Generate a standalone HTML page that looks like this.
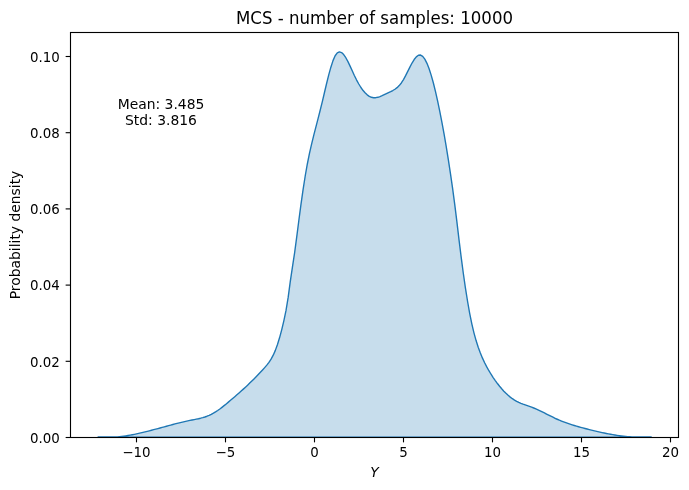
<!DOCTYPE html>
<html lang="en"><head><meta charset="utf-8"><title>MCS - number of samples: 10000</title>
<style>
html,body{margin:0;padding:0;background:#fff;}
body{width:689px;height:490px;overflow:hidden;}
svg{display:block;}
text{font-family:"DejaVu Sans","Liberation Sans",sans-serif;fill:#000;}
.t10{font-size:13.889px;}
.t12{font-size:16.667px;}
</style></head><body>
<svg width="689" height="490" viewBox="0 0 689 490">
<rect width="689" height="490" fill="#fff"/>
<defs><clipPath id="ax"><rect x="70.5" y="32.5" width="608.0" height="405.0"/></clipPath></defs>
<g clip-path="url(#ax)">
<path d="M98.10 437.00 L100.24 437.00 L102.37 437.00 L104.51 437.00 L106.64 437.00 L108.78 437.00 L110.91 437.00 L113.05 437.00 L115.18 437.00 L117.32 436.89 L119.46 436.67 L121.59 436.43 L123.73 436.15 L125.86 435.83 L128.00 435.49 L130.13 435.12 L132.27 434.73 L134.40 434.31 L136.54 433.86 L138.67 433.40 L140.81 432.91 L142.95 432.41 L145.08 431.89 L147.22 431.36 L149.35 430.82 L151.49 430.26 L153.62 429.70 L155.76 429.13 L157.89 428.55 L160.03 427.97 L162.17 427.39 L164.30 426.81 L166.44 426.23 L168.57 425.65 L170.71 425.08 L172.84 424.51 L174.98 423.95 L177.11 423.40 L179.25 422.87 L181.39 422.35 L183.52 421.84 L185.66 421.35 L187.79 420.88 L189.93 420.43 L192.06 420.00 L194.20 419.58 L196.33 419.15 L198.47 418.70 L200.61 418.20 L202.74 417.63 L204.88 416.98 L207.01 416.23 L209.15 415.36 L211.28 414.35 L213.42 413.19 L215.55 411.90 L217.69 410.48 L219.82 408.96 L221.96 407.35 L224.10 405.67 L226.23 403.93 L228.37 402.15 L230.50 400.34 L232.64 398.52 L234.77 396.68 L236.91 394.82 L239.04 392.94 L241.18 391.04 L243.32 389.11 L245.45 387.15 L247.59 385.15 L249.72 383.12 L251.86 381.04 L253.99 378.93 L256.13 376.77 L258.26 374.56 L260.40 372.30 L262.54 369.98 L264.67 367.61 L266.81 365.14 L268.94 362.38 L271.08 359.14 L273.21 355.20 L275.35 350.38 L277.48 344.49 L279.62 337.56 L281.75 329.59 L283.89 320.62 L286.03 310.45 L288.16 297.40 L290.30 281.46 L292.43 267.22 L294.57 253.03 L296.70 237.09 L298.84 220.49 L300.97 204.40 L303.11 189.39 L305.25 175.76 L307.38 163.74 L309.52 153.23 L311.65 143.83 L313.79 135.15 L315.92 126.83 L318.06 118.63 L320.19 110.29 L322.33 101.58 L324.47 92.53 L326.60 83.52 L328.74 74.93 L330.87 67.18 L333.01 60.65 L335.14 55.76 L337.28 52.86 L339.41 51.88 L341.55 52.56 L343.68 54.59 L345.82 57.72 L347.96 61.65 L350.09 66.10 L352.23 70.80 L354.36 75.46 L356.50 79.81 L358.63 83.75 L360.77 87.25 L362.90 90.28 L365.04 92.82 L367.18 94.85 L369.31 96.35 L371.45 97.29 L373.58 97.71 L375.72 97.69 L377.85 97.29 L379.99 96.61 L382.12 95.72 L384.26 94.69 L386.40 93.62 L388.53 92.57 L390.67 91.58 L392.80 90.52 L394.94 89.26 L397.07 87.67 L399.21 85.62 L401.34 82.97 L403.48 79.60 L405.62 75.64 L407.75 71.38 L409.89 67.09 L412.02 63.05 L414.16 59.54 L416.29 56.86 L418.43 55.27 L420.56 55.06 L422.70 56.38 L424.83 59.17 L426.97 63.33 L429.11 68.75 L431.24 75.34 L433.38 82.99 L435.51 91.61 L437.65 101.10 L439.78 111.35 L441.92 122.31 L444.05 133.99 L446.19 146.41 L448.33 159.59 L450.46 173.55 L452.60 188.40 L454.73 204.37 L456.87 221.64 L459.00 239.66 L461.14 256.90 L463.27 272.97 L465.41 287.78 L467.55 301.25 L469.68 313.30 L471.82 323.84 L473.95 332.87 L476.09 340.57 L478.22 347.19 L480.36 352.98 L482.49 358.14 L484.63 362.77 L486.76 366.94 L488.90 370.73 L491.04 374.24 L493.17 377.52 L495.31 380.62 L497.44 383.54 L499.58 386.27 L501.71 388.81 L503.85 391.17 L505.98 393.33 L508.12 395.31 L510.26 397.10 L512.39 398.70 L514.53 400.11 L516.66 401.34 L518.80 402.40 L520.93 403.34 L523.07 404.18 L525.20 404.95 L527.34 405.69 L529.48 406.42 L531.61 407.18 L533.75 408.00 L535.88 408.89 L538.02 409.84 L540.15 410.84 L542.29 411.88 L544.42 412.94 L546.56 414.02 L548.69 415.11 L550.83 416.18 L552.97 417.24 L555.10 418.27 L557.24 419.25 L559.37 420.19 L561.51 421.07 L563.64 421.91 L565.78 422.70 L567.91 423.46 L570.05 424.18 L572.19 424.86 L574.32 425.52 L576.46 426.15 L578.59 426.76 L580.73 427.35 L582.86 427.92 L585.00 428.48 L587.13 429.03 L589.27 429.58 L591.41 430.11 L593.54 430.63 L595.68 431.14 L597.81 431.64 L599.95 432.12 L602.08 432.59 L604.22 433.04 L606.35 433.47 L608.49 433.88 L610.63 434.28 L612.76 434.65 L614.90 435.01 L617.03 435.34 L619.17 435.65 L621.30 435.94 L623.44 436.20 L625.57 436.43 L627.71 436.64 L629.84 436.81 L631.98 436.96 L634.12 437.00 L636.25 437.00 L638.39 437.00 L640.52 437.00 L642.66 437.00 L644.79 437.00 L646.93 437.00 L649.06 437.00 L651.20 437.00 L651.20 437.2 L98.10 437.2 Z" fill="#1f77b4" fill-opacity="0.25" stroke="#1f77b4" stroke-width="1.389" stroke-linejoin="round"/>
</g>

<g stroke="#000" stroke-width="1.111" fill="none">
<line x1="136.50" y1="437.5" x2="136.50" y2="442.36"/>
<line x1="225.50" y1="437.5" x2="225.50" y2="442.36"/>
<line x1="314.50" y1="437.5" x2="314.50" y2="442.36"/>
<line x1="403.50" y1="437.5" x2="403.50" y2="442.36"/>
<line x1="492.50" y1="437.5" x2="492.50" y2="442.36"/>
<line x1="581.50" y1="437.5" x2="581.50" y2="442.36"/>
<line x1="670.50" y1="437.5" x2="670.50" y2="442.36"/>
<line x1="70.5" y1="437.50" x2="65.64" y2="437.50"/>
<line x1="70.5" y1="361.30" x2="65.64" y2="361.30"/>
<line x1="70.5" y1="285.10" x2="65.64" y2="285.10"/>
<line x1="70.5" y1="208.90" x2="65.64" y2="208.90"/>
<line x1="70.5" y1="132.70" x2="65.64" y2="132.70"/>
<line x1="70.5" y1="56.50" x2="65.64" y2="56.50"/>
<rect x="70.5" y="32.5" width="608.0" height="405.0" stroke-linejoin="miter"/>
</g>
<g class="t10">
<text transform="translate(136.50 457.0) scale(0.965 1)" text-anchor="middle">−10</text>
<text transform="translate(225.50 457.0) scale(0.965 1)" text-anchor="middle">−5</text>
<text transform="translate(314.50 457.0) scale(0.965 1)" text-anchor="middle">0</text>
<text transform="translate(403.50 457.0) scale(0.965 1)" text-anchor="middle">5</text>
<text transform="translate(492.50 457.0) scale(0.965 1)" text-anchor="middle">10</text>
<text transform="translate(581.50 457.0) scale(0.965 1)" text-anchor="middle">15</text>
<text transform="translate(670.50 457.0) scale(0.965 1)" text-anchor="middle">20</text>
<text transform="translate(59.8 442.70) scale(0.965 1)" text-anchor="end">0.00</text>
<text transform="translate(59.8 366.50) scale(0.965 1)" text-anchor="end">0.02</text>
<text transform="translate(59.8 290.30) scale(0.965 1)" text-anchor="end">0.04</text>
<text transform="translate(59.8 214.10) scale(0.965 1)" text-anchor="end">0.06</text>
<text transform="translate(59.8 137.90) scale(0.965 1)" text-anchor="end">0.08</text>
<text transform="translate(59.8 61.70) scale(0.965 1)" text-anchor="end">0.10</text>
<text x="374.5" y="477.0" text-anchor="middle" font-style="italic">Y</text>
<text transform="translate(19.8 235) rotate(-90)" text-anchor="middle">Probability density</text>
<text x="161" y="108.5" text-anchor="middle">Mean: 3.485</text>
<text x="161" y="124.5" text-anchor="middle">Std: 3.816</text>
</g>
<text class="t12" transform="translate(374.5 23.8) scale(0.997 1.07)" text-anchor="middle">MCS - number of samples: 10000</text>
</svg></body></html>
